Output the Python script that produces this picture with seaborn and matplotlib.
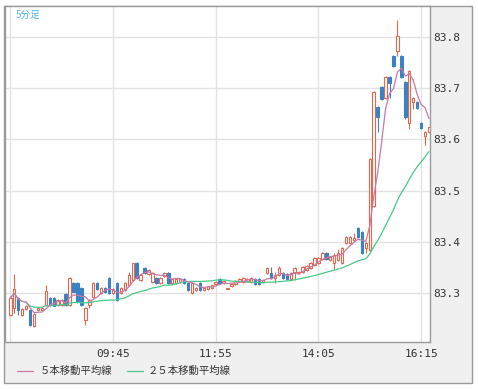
import numpy as np
import pandas as pd
import matplotlib
matplotlib.use("Agg")
import matplotlib.pyplot as plt
import seaborn as sns
from matplotlib.patches import Rectangle
from matplotlib.lines import Line2D

# 5-minute bars from 07:35
open_ = [83.257, 83.271, 83.290, 83.257, 83.269, 83.267, 83.235, 83.267, 83.267, 83.276,
         83.290, 83.290, 83.276, 83.276, 83.298, 83.276, 83.320, 83.320, 83.310, 83.247,
         83.276, 83.292, 83.320, 83.300, 83.310, 83.329, 83.300, 83.320, 83.300, 83.306,
         83.316, 83.325, 83.359, 83.325, 83.349, 83.337, 83.322, 83.329, 83.320, 83.333,
         83.339, 83.320, 83.320, 83.322, 83.327, 83.320, 83.300, 83.306, 83.320, 83.306,
         83.308, 83.310, 83.318, 83.327, 83.320, 83.308, 83.314, 83.318, 83.324, 83.322,
         83.324, 83.322, 83.327, 83.327, 83.322, 83.339, 83.339, 83.329, 83.335, 83.339,
         83.337, 83.327, 83.341, 83.339, 83.341, 83.345, 83.349, 83.355, 83.359, 83.367,
         83.378, 83.365, 83.359, 83.365, 83.359, 83.398, 83.398, 83.404, 83.427, 83.420,
         83.388, 83.384, 83.469, 83.663, 83.702, 83.682, 83.722, 83.763, 83.773, 83.763,
         83.712, 83.633, 83.673, 83.673, 83.633, 83.606, 83.614]
high = [83.294, 83.337, 83.292, 83.271, 83.276, 83.269, 83.261, 83.273, 83.273, 83.316,
        83.292, 83.292, 83.288, 83.288, 83.300, 83.331, 83.322, 83.322, 83.312, 83.273,
        83.288, 83.322, 83.322, 83.312, 83.312, 83.331, 83.310, 83.322, 83.312, 83.322,
        83.341, 83.359, 83.361, 83.339, 83.351, 83.347, 83.341, 83.331, 83.331, 83.341,
        83.341, 83.327, 83.327, 83.327, 83.329, 83.322, 83.322, 83.312, 83.322, 83.312,
        83.314, 83.316, 83.324, 83.329, 83.325, 83.310, 83.320, 83.325, 83.329, 83.331,
        83.329, 83.331, 83.329, 83.329, 83.327, 83.351, 83.351, 83.341, 83.353, 83.341,
        83.339, 83.341, 83.351, 83.343, 83.353, 83.355, 83.361, 83.371, 83.371, 83.380,
        83.380, 83.373, 83.378, 83.386, 83.390, 83.412, 83.412, 83.418, 83.429, 83.422,
        83.400, 83.563, 83.694, 83.665, 83.704, 83.724, 83.724, 83.765, 83.833, 83.765,
        83.714, 83.735, 83.684, 83.675, 83.635, 83.616, 83.625]
low = [83.255, 83.261, 83.257, 83.255, 83.267, 83.235, 83.233, 83.265, 83.267, 83.275,
       83.275, 83.275, 83.275, 83.275, 83.275, 83.275, 83.302, 83.280, 83.275, 83.237,
       83.271, 83.290, 83.306, 83.298, 83.300, 83.298, 83.298, 83.284, 83.298, 83.304,
       83.314, 83.324, 83.327, 83.324, 83.337, 83.335, 83.320, 83.318, 83.318, 83.331,
       83.318, 83.318, 83.318, 83.320, 83.318, 83.304, 83.298, 83.304, 83.304, 83.304,
       83.306, 83.308, 83.316, 83.318, 83.318, 83.308, 83.312, 83.316, 83.322, 83.320,
       83.322, 83.320, 83.316, 83.316, 83.320, 83.337, 83.327, 83.320, 83.333, 83.327,
       83.325, 83.325, 83.325, 83.337, 83.339, 83.343, 83.347, 83.353, 83.357, 83.365,
       83.365, 83.363, 83.347, 83.363, 83.357, 83.396, 83.396, 83.402, 83.408, 83.376,
       83.378, 83.380, 83.467, 83.614, 83.678, 83.680, 83.682, 83.741, 83.763, 83.720,
       83.641, 83.620, 83.659, 83.659, 83.620, 83.590, 83.612]
close = [83.290, 83.308, 83.267, 83.269, 83.275, 83.237, 83.259, 83.271, 83.271, 83.304,
         83.276, 83.275, 83.286, 83.286, 83.276, 83.329, 83.302, 83.284, 83.276, 83.271,
         83.286, 83.320, 83.308, 83.310, 83.302, 83.300, 83.308, 83.286, 83.310, 83.320,
         83.335, 83.359, 83.329, 83.335, 83.339, 83.345, 83.339, 83.320, 83.329, 83.339,
         83.320, 83.327, 83.327, 83.327, 83.320, 83.306, 83.320, 83.310, 83.306, 83.310,
         83.314, 83.316, 83.322, 83.320, 83.324, 83.310, 83.318, 83.324, 83.327, 83.329,
         83.327, 83.329, 83.318, 83.318, 83.325, 83.349, 83.329, 83.335, 83.349, 83.329,
         83.327, 83.339, 83.349, 83.341, 83.351, 83.353, 83.359, 83.369, 83.369, 83.378,
         83.367, 83.371, 83.375, 83.378, 83.388, 83.410, 83.410, 83.408, 83.410, 83.378,
         83.398, 83.561, 83.692, 83.643, 83.680, 83.722, 83.710, 83.743, 83.802, 83.722,
         83.643, 83.733, 83.682, 83.661, 83.622, 83.614, 83.624]

start_time = "07:35"
grid_times = ["07:35", "09:45", "11:55", "14:05", "16:15"]
tick_labels = ["09:45", "11:55", "14:05", "16:15"]
y_ticks = [83.3, 83.4, 83.5, 83.6, 83.7, 83.8]

up_color = "#e2694f"
down_color = "#3a82c4"
ma5_color = "#c97aa6"
ma25_color = "#48c98a"

df = pd.DataFrame({"open": open_, "high": high, "low": low, "close": close})
df["time"] = pd.date_range("2010-01-04 " + start_time, periods=len(df), freq="5min").strftime("%H:%M")
df["x"] = np.arange(len(df))
df["ma5"] = df["close"].rolling(5, min_periods=1).mean()
df["ma25"] = df["close"].rolling(25, min_periods=1).mean()

sns.set_style("white")
plt.rcParams['font.family'] = ['DejaVu Sans Mono', 'Noto Sans CJK JP']

fig = plt.figure(figsize=(4.78, 3.9), dpi=100)
W, H = 478, 390
fig.patches.append(Rectangle((4 / W, 1 - 383 / H), 468 / W, 377 / H, transform=fig.transFigure,
                             facecolor="#f0f0f0", edgecolor="#9a9a9a", lw=1, zorder=-10))
ax = fig.add_axes([5 / W, 1 - 342 / H, 425 / W, 336 / H])
ax.set_zorder(1)
ax.set_facecolor("white")

# grid
for t in grid_times:
    ax.axvline(df.index[df["time"] == t][0], color="#e3e3e3", lw=1, zorder=1)
for v in y_ticks:
    ax.axhline(v, color="#e3e3e3", lw=1, zorder=1)

# candles
up = df["close"] >= df["open"]
cols = np.where(up, up_color, down_color)
ax.vlines(df["x"], df["low"], df["high"], colors=cols, lw=0.8, zorder=2)
bottom = np.minimum(df["open"], df["close"])
height = np.maximum((df["close"] - df["open"]).abs(), 0.002)
ax.bar(df["x"], height, bottom=bottom, width=0.62,
       color=np.where(up, "white", down_color), edgecolor=cols, lw=0.8, zorder=3)

sns.lineplot(data=df, x="x", y="ma25", color=ma25_color, lw=0.9, ax=ax, zorder=4)
sns.lineplot(data=df, x="x", y="ma5", color=ma5_color, lw=0.9, ax=ax, zorder=5)

ax.set_xlim(-1.34, 106.25)
ax.set_ylim(83.204, 83.861)
ax.set_xlabel("")
ax.set_ylabel("")
ax.set_xticks([df.index[df["time"] == t][0] for t in tick_labels])
ax.set_xticklabels(tick_labels)
ax.set_yticks(y_ticks)
ax.set_yticklabels([f"{v:.1f}" for v in y_ticks])
ax.yaxis.tick_right()
ax.tick_params(axis="x", length=0, pad=5, labelsize=8, colors="#333333")
ax.tick_params(axis="y", length=0, pad=2, labelsize=8, colors="#333333")
for s in ax.spines.values():
    s.set_color("#9a9a9a")
    s.set_linewidth(1)

fig.text(16 / W, 1 - 15 / H, "5分足", fontsize=7, color="#4fb8e6", va="center",
         family=["Noto Sans CJK JP", "DejaVu Sans"], zorder=5)

# legend
ly = 1 - 371 / H
fig.lines.append(Line2D([17 / W, 33 / W], [ly, ly], color=ma5_color, lw=0.9, transform=fig.transFigure))
fig.text(40 / W, ly, "５本移動平均線", fontsize=7.5, color="#333333", va="center",
         family=["Noto Sans CJK JP", "DejaVu Sans"])
fig.lines.append(Line2D([127 / W, 143 / W], [ly, ly], color=ma25_color, lw=0.9, transform=fig.transFigure))
fig.text(148 / W, ly, "２５本移動平均線", fontsize=7.5, color="#333333", va="center",
         family=["Noto Sans CJK JP", "DejaVu Sans"])

fig.savefig("out.png", dpi=100)
